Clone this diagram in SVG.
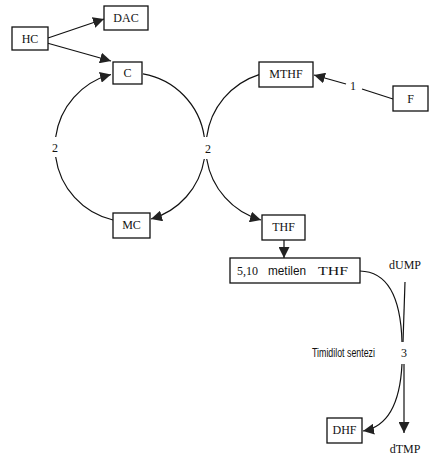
<svg xmlns="http://www.w3.org/2000/svg" width="440" height="460" viewBox="0 0 440 460">
<style>
.box{fill:#fff;stroke:#111;stroke-width:1.3}
.lbl{font-family:"Liberation Serif","DejaVu Serif",serif;font-size:12px;fill:#111;text-anchor:middle}
.st{font-family:"Liberation Serif","DejaVu Serif",serif;font-size:13px;fill:#111;text-anchor:start}
.cnd{font-family:"Liberation Sans","DejaVu Sans",sans-serif;font-size:12px;fill:#111}
.ln{fill:none;stroke:#111;stroke-width:1.2}
.arr{marker-end:url(#ah)}
</style>
<defs>
<marker id="ah" viewBox="0 0 10 10" refX="10" refY="5" markerWidth="11" markerHeight="11" markerUnits="userSpaceOnUse" orient="auto">
<path d="M0,0 L10,5 L0,10 Z" fill="#222"/>
</marker>
</defs>
<rect width="440" height="460" fill="#fff"/>
<g id="connectors">
<line class="ln arr" x1="48" y1="38" x2="104" y2="19"/>
<line class="ln arr" x1="47" y1="43" x2="111" y2="61"/>
<path class="ln arr" d="M 55.7 137 A 75 75 0 0 1 111 74.5"/>
<path class="ln" d="M 55.7 157 A 75 75 0 0 0 113 220"/>
<path class="ln" d="M 143 73.9 A 75 75 0 0 1 204.3 137"/>
<path class="ln arr" d="M 204.3 159 A 75 75 0 0 1 151 219"/>
<path class="ln" d="M 259 74.6 A 76 76 0 0 0 206.7 137"/>
<path class="ln arr" d="M 206.7 159 A 76 76 0 0 0 261 220"/>
<line class="ln" x1="393" y1="99" x2="362" y2="89"/>
<line class="ln arr" x1="346" y1="84" x2="314" y2="75"/>
<line class="ln arr" x1="284" y1="240" x2="284" y2="258"/>
<path class="ln" d="M 360 271 Q 400 272 402 342"/>
<line class="ln" x1="405" y1="282" x2="403" y2="342"/>
<path class="ln arr" d="M 402 364 Q 399 425 363 431"/>
<line class="ln arr" x1="404" y1="364" x2="404" y2="433"/>
<text class="lbl" x="55" y="152">2</text>
<text class="lbl" x="208" y="153">2</text>
<text class="lbl" x="353" y="90">1</text>
<text class="lbl" x="404" y="357">3</text>
<text class="cnd" x="312" y="357" font-size="11.5" textLength="63" lengthAdjust="spacingAndGlyphs">Timidilot sentezi</text>
</g>
<g id="HC"><rect class="box" x="12" y="27" width="36" height="23"/><text class="lbl" x="30" y="43">HC</text></g>
<g id="DAC"><rect class="box" x="104" y="6" width="44" height="24"/><text class="lbl" x="126" y="22">DAC</text></g>
<g id="C"><rect class="box" x="113" y="62" width="29" height="22"/><text class="lbl" x="127.5" y="77">C</text></g>
<g id="MTHF"><rect class="box" x="259" y="62" width="54" height="25"/><text class="lbl" x="286" y="78">MTHF</text></g>
<g id="F"><rect class="box" x="393" y="86" width="35" height="25"/><text class="lbl" x="410.5" y="103">F</text></g>
<g id="MC"><rect class="box" x="113" y="213" width="37" height="25"/><text class="lbl" x="131.5" y="229">MC</text></g>
<g id="THF"><rect class="box" x="262" y="215" width="43" height="25"/><text class="lbl" x="283.5" y="231">THF</text></g>
<g id="metilenTHF"><rect class="box" x="230" y="258" width="130" height="25"/>
<text class="st" x="237" y="275" textLength="21" lengthAdjust="spacingAndGlyphs">5,10</text>
<text class="cnd" x="268" y="275" font-size="13" textLength="38" lengthAdjust="spacingAndGlyphs">metilen</text>
<text class="st" x="318" y="275" textLength="30" lengthAdjust="spacingAndGlyphs">THF</text></g>
<g id="DHF"><rect class="box" x="327" y="418" width="35" height="25"/><text class="lbl" x="344.5" y="434">DHF</text></g>
<g id="dUMP"><text class="lbl" x="405" y="269" font-size="11">dUMP</text></g>
<g id="dTMP"><text class="lbl" x="405" y="453" font-size="11">dTMP</text></g>
</svg>
